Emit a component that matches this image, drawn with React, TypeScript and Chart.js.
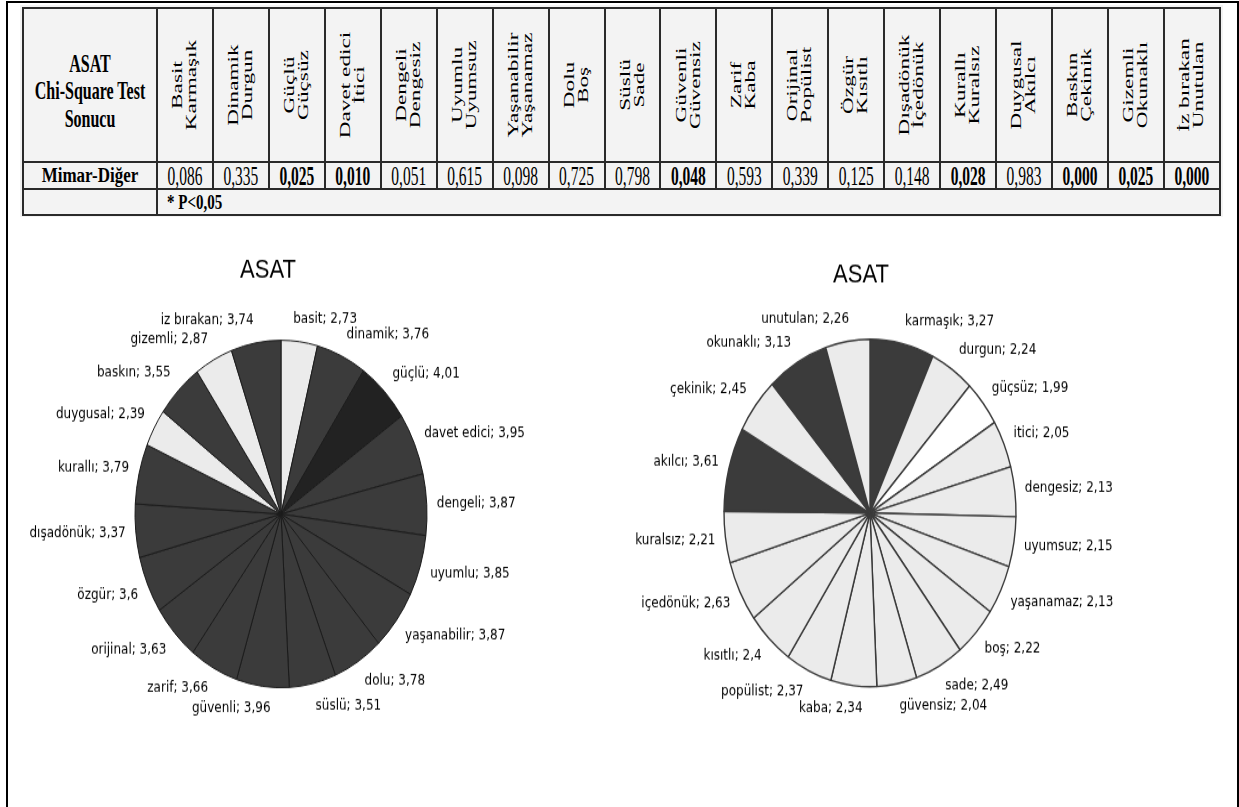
import React, { useEffect, useRef } from "react";
import { Chart, registerables } from "chart.js";

Chart.register(...registerables);

// ---------- table data ----------
const tableTitle = ["ASAT", "Chi-Square Test", "Sonucu"];
const rowLabel = "Mimar-Diğer";
const noteText = "* P<0,05";
const pairTop = ["Basit", "Dinamik", "Güçlü", "Davet edici", "Dengeli", "Uyumlu", "Yaşanabilir", "Dolu", "Süslü", "Güvenli", "Zarif", "Orijinal", "Özgür", "Dışadönük", "Kurallı", "Duygusal", "Baskın", "Gizemli", "İz bırakan"];
const pairBottom = ["Karmaşık", "Durgun", "Güçsüz", "İtici", "Dengesiz", "Uyumsuz", "Yaşanamaz", "Boş", "Sade", "Güvensiz", "Kaba", "Popülist", "Kısıtlı", "İçedönük", "Kuralsız", "Akılcı", "Çekinik", "Okunaklı", "Unutulan"];
const pValues = ["0,086", "0,335", "0,025", "0,010", "0,051", "0,615", "0,098", "0,725", "0,798", "0,048", "0,593", "0,339", "0,125", "0,148", "0,028", "0,983", "0,000", "0,025", "0,000"];

// ---------- pie data ----------
const pieTitle = "ASAT";
const leftLabels = ["basit", "dinamik", "güçlü", "davet edici", "dengeli", "uyumlu", "yaşanabilir", "dolu", "süslü", "güvenli", "zarif", "orijinal", "özgür", "dışadönük", "kurallı", "duygusal", "baskın", "gizemli", "iz bırakan"];
const leftValues = [2.73, 3.76, 4.01, 3.95, 3.87, 3.85, 3.87, 3.78, 3.51, 3.96, 3.66, 3.63, 3.6, 3.37, 3.79, 2.39, 3.55, 2.87, 3.74];
const rightLabels = ["karmaşık", "durgun", "güçsüz", "itici", "dengesiz", "uyumsuz", "yaşanamaz", "boş", "sade", "güvensiz", "kaba", "popülist", "kısıtlı", "içedönük", "kuralsız", "akılcı", "çekinik", "okunaklı", "unutulan"];
const rightValues = [3.27, 2.24, 1.99, 2.05, 2.13, 2.15, 2.13, 2.22, 2.49, 2.04, 2.34, 2.37, 2.4, 2.63, 2.21, 3.61, 2.45, 3.13, 2.26];

const STRETCH = 1.19;

function shade(v: number): string {
  if (v < 2) return "#ffffff";
  if (v < 3) return "#ebebeb";
  if (v < 4) return "#3b3b3b";
  return "#222222";
}

const clamp = (v: number) => Math.max(0, Math.min(1, v));

const pieDecor = {
  id: "pieDecor",
  afterDatasetsDraw(chart: any, _args: any, opts: any) {
    const ctx = chart.ctx as CanvasRenderingContext2D;
    const meta = chart.getDatasetMeta(0);
    const ds = chart.data.datasets[0];
    ctx.save();
    ctx.fillStyle = "#000";
    ctx.font = '12px "DejaVu Sans"';
    ctx.textAlign = "left";
    ctx.textBaseline = "middle";
    let cx = 0;
    meta.data.forEach((arc: any, i: number) => {
      const p = arc.getProps(["x", "y", "startAngle", "endAngle", "outerRadius"], true);
      cx = p.x;
      const mid = (p.startAngle + p.endAngle) / 2;
      const ux = Math.cos(mid);
      const uy = Math.sin(mid);
      const R = p.outerRadius + 10 + 3 * uy * uy;
      const ax = p.x + R * ux;
      const ay = p.y + R * uy;
      const text = `${chart.data.labels[i]}; ${String(ds.data[i]).replace(".", ",")}`;
      const w = ctx.measureText(text).width;
      const h = 12;
      const a = clamp(0.5 + 3 * ux);
      const b = clamp(0.5 - 1.0 * uy);
      const left = ax - w * (1 - a);
      const top = ay - h * b;
      ctx.fillText(text, left, top + h / 2);
    });
    ctx.font = '22px "Liberation Sans"';
    ctx.textAlign = "center";
    ctx.fillText(opts.text, cx + opts.dx, opts.y);
    ctx.restore();
  },
};

type PieProps = {
  labels: string[];
  values: number[];
  left: number;
  top: number;
  width: number;
  height: number;
  centerY: number;
  titleDx: number;
  titleY: number;
  borderColor: string;
  borderWidth: number;
};

function Pie(props: PieProps) {
  const ref = useRef<HTMLCanvasElement>(null);
  useEffect(() => {
    const padTop = 60;
    const padBottom = props.height - (2 * props.centerY - padTop);
    const chart = new Chart(ref.current as HTMLCanvasElement, {
      type: "pie",
      data: {
        labels: props.labels,
        datasets: [
          {
            data: props.values,
            backgroundColor: props.values.map(shade),
            borderColor: props.borderColor,
            borderWidth: props.borderWidth,
            radius: 146,
          } as any,
        ],
      },
      options: {
        responsive: false,
        animation: false,
        events: [],
        layout: { padding: { top: padTop, bottom: padBottom, left: 0, right: 0 } },
        plugins: {
          legend: { display: false },
          tooltip: { enabled: false },
          title: { display: false },
          pieDecor: { text: pieTitle, dx: props.titleDx, y: props.titleY },
        } as any,
      },
      plugins: [pieDecor as any],
    });
    return () => chart.destroy();
  }, []);
  return (
    <div
      style={{
        position: "absolute",
        left: props.left,
        top: props.top,
        width: props.width,
        height: props.height,
        transform: `scaleY(${STRETCH})`,
        transformOrigin: "0 0",
      }}
    >
      <canvas ref={ref} width={props.width} height={props.height} style={{ width: props.width, height: props.height }} />
    </div>
  );
}

const LINE = "2px solid #2a2a2a";
const cellBase: React.CSSProperties = { border: LINE, padding: 0, textAlign: "center", verticalAlign: "middle", overflow: "hidden" };

const FIRST_COL_RIGHT = 156;
const COL_W = 55.95;
const HEADER_CENTER_Y = 85;

function DataTable() {
  return (
    <>
      <div style={{ position: "absolute", left: 20, top: 5, width: 1203, height: 212, background: "#f3f3f3" }} />
      <table
        style={{
          position: "absolute",
          left: 22,
          top: 7,
          width: 1197,
          borderCollapse: "collapse",
          tableLayout: "fixed",
          fontFamily: '"Liberation Serif", serif',
          color: "#000",
          background: "#f3f3f3",
        }}
      >
        <colgroup>
          <col style={{ width: 134 }} />
          {pairTop.map((_, i) => (
            <col key={i} style={{ width: COL_W }} />
          ))}
        </colgroup>
        <tbody>
          <tr style={{ height: 154 }}>
            <td style={{ ...cellBase, paddingTop: 10 }}>
              <div style={{ fontWeight: "bold", fontSize: 16, lineHeight: "17px", transform: "scaleY(1.6)" }}>
                {tableTitle.map((t, i) => (
                  <div key={i}>{t}</div>
                ))}
              </div>
            </td>
            {pairTop.map((_, i) => (
              <td key={i} style={cellBase}></td>
            ))}
          </tr>
          <tr style={{ height: 27 }}>
            <td style={cellBase}>
              <span style={{ display: "inline-block", fontWeight: "bold", fontSize: 17, transform: "scaleY(1.25)" }}>{rowLabel}</span>
            </td>
            {pValues.map((v, i) => (
              <td key={i} style={cellBase}>
                <span
                  style={{
                    display: "inline-block",
                    fontSize: 15.5,
                    lineHeight: "16px",
                    fontWeight: parseFloat(v.replace(",", ".")) < 0.05 ? "bold" : "normal",
                    transform: "scaleY(1.75)",
                  }}
                >
                  {v}
                </span>
              </td>
            ))}
          </tr>
          <tr style={{ height: 26 }}>
            <td style={cellBase}></td>
            <td colSpan={pairTop.length} style={{ ...cellBase, textAlign: "left", paddingLeft: 9 }}>
              <span style={{ display: "inline-block", fontSize: 15, lineHeight: "16px", fontWeight: "bold", transform: "scaleY(1.35)" }}>{noteText}</span>
            </td>
          </tr>
        </tbody>
      </table>
      {pairTop.map((t, i) => (
        <div
          key={i}
          style={{
            position: "absolute",
            left: FIRST_COL_RIGHT + (i + 0.5) * COL_W - 70,
            top: HEADER_CENTER_Y - 14,
            width: 140,
            height: 28,
            transformOrigin: "50% 50%",
            transform: "rotate(-90deg) scaleX(1.55)",
            fontFamily: '"Liberation Serif", serif',
            fontSize: 15,
            lineHeight: "14px",
            textAlign: "center",
            whiteSpace: "nowrap",
            color: "#000",
          }}
        >
          <div>{t}</div>
          <div>{pairBottom[i]}</div>
        </div>
      ))}
    </>
  );
}

export default function App() {
  return (
    <div style={{ position: "absolute", left: 0, top: 0, width: 1239, height: 807, overflow: "hidden", background: "#fff" }}>
      <style>{"html,body{overflow:hidden;}"}</style>
      <div
        style={{
          position: "absolute",
          left: 6,
          top: 1,
          width: 1233,
          height: 806,
          boxSizing: "border-box",
          borderLeft: "2px solid #000",
          borderTop: "2px solid #000",
          borderRight: "2px solid #000",
        }}
      />
      <DataTable />
      <Pie
        labels={leftLabels}
        values={leftValues}
        left={20}
        top={236}
        width={522}
        height={420}
        centerY={233.6}
        titleDx={-13}
        titleY={28.6}
        borderColor="#1a1a1a"
        borderWidth={1}
      />
      <Pie
        labels={rightLabels}
        values={rightValues}
        left={620}
        top={236}
        width={500}
        height={420}
        centerY={232.8}
        titleDx={-9}
        titleY={32.8}
        borderColor="#3a3a3a"
        borderWidth={1.4}
      />
    </div>
  );
}
